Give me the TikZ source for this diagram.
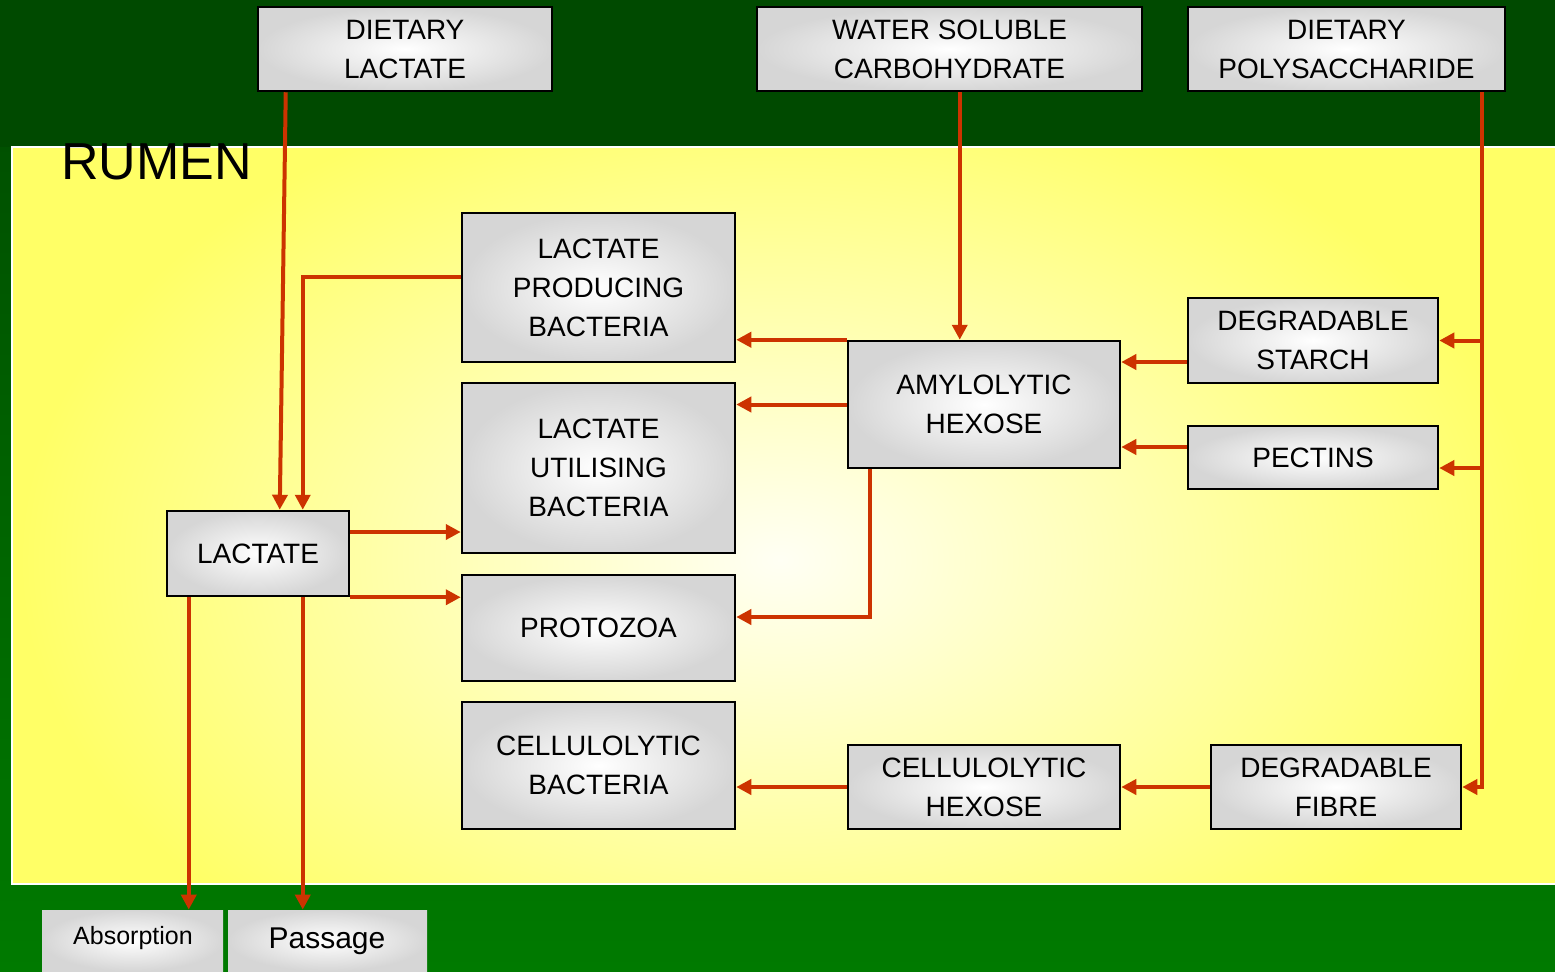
\documentclass[tikz,border=0pt]{standalone}
\usepackage{fontspec}
\setmainfont{Liberation Sans}
\usetikzlibrary{arrows.meta,fit}
\definecolor{arrowred}{HTML}{CC3300}
\definecolor{topgreen}{HTML}{004A00}
\definecolor{botgreen}{HTML}{007A00}
\definecolor{rumenyellow}{HTML}{FFFF66}
\definecolor{rumenlight}{HTML}{FFFFF4}
\definecolor{boxgray}{HTML}{D6D6D6}
\begin{document}
\begin{tikzpicture}[x=0.5pt,y=-0.5pt,
  box/.style={draw=black, line width=1.25pt, inner color=white, outer color=boxgray, inner sep=0pt},
  txt/.style={inner sep=0pt, align=center, text=black, font=\fontsize{14}{19.5}\selectfont},
  outbox/.style={inner color=white, outer color=boxgray, inner sep=0pt},
  arr/.style={draw=arrowred, line width=2pt, -{Triangle[length=7.5pt,width=7.5pt]}}]
\useasboundingbox (0,0) rectangle (1555,971);
\clip (0,0) rectangle (1555,971);
% background
\shade[top color=topgreen, bottom color=botgreen] (0,0) rectangle (1555,971);
\fill[topgreen] (0,0) rectangle (1555,147);
% rumen
\fill[rumenyellow] (12,147) rectangle (1570,884);
\begin{scope}
  \clip (12,147) rectangle (1570,884);
  \shade[inner color=rumenlight, outer color=rumenyellow] (780,560) ellipse [x radius=760, y radius=500];
\end{scope}
\draw[white, line width=1pt] (12,147) rectangle (1570,884);
\node[anchor=base west, font=\fontsize{26}{30}\selectfont, text=black, inner sep=0pt] (rumen) at (61,179) {RUMEN};

% boxes
\node[box, fit={(258,7) (552,91)}, label={[txt]center:DIETARY\\LACTATE}] (dl) {};
\node[box, fit={(757,7) (1142,91)}, label={[txt]center:WATER SOLUBLE\\CARBOHYDRATE}] (wsc) {};
\node[box, fit={(1188,7) (1505,91)}, label={[txt]center:DIETARY\\POLYSACCHARIDE}] (dp) {};
\node[box, fit={(462,213) (735,362)}, label={[txt]center:LACTATE\\PRODUCING\\BACTERIA}] (lpb) {};
\node[box, fit={(462,383) (735,553)}, label={[txt]center:LACTATE\\UTILISING\\BACTERIA}] (lub) {};
\node[box, fit={(462,575) (735,681)}, label={[txt]center:PROTOZOA}] (pro) {};
\node[box, fit={(462,702) (735,829)}, label={[txt]center:CELLULOLYTIC\\BACTERIA}] (cb) {};
\node[box, fit={(848,341) (1120,468)}, label={[txt]center:AMYLOLYTIC\\HEXOSE}] (amy) {};
\node[box, fit={(1188,298) (1438,383)}, label={[txt]center:DEGRADABLE\\STARCH}] (ds) {};
\node[box, fit={(1188,426) (1438,489)}, label={[txt]center:PECTINS}] (pec) {};
\node[box, fit={(848,745) (1120,829)}, label={[txt]center:CELLULOLYTIC\\HEXOSE}] (ch) {};
\node[box, fit={(1211,745) (1461,829)}, label={[txt]center:DEGRADABLE\\FIBRE}] (df) {};
\node[box, fit={(167,511) (349,596)}, label={[txt]center:LACTATE}] (lac) {};
\node[outbox, fit={(42,910) (223,971)}] (abs) {};
\node[txt, font=\fontsize{12.5}{15}\selectfont] (abst) at (133,938) {Absorption};
\node[outbox, fit={(228,910) (427,971)}] (pas) {};
\node[txt, font=\fontsize{15}{18}\selectfont] (past) at (327,941) {Passage};

% connectors
\draw[arr] ([xshift=14.5pt]dl.south west) -- ([xshift=57pt]lac.north west);
\draw[arr] ([yshift=5.25pt]lpb.west) -| ([xshift=68.5pt]lac.north west);
\coordinate (w1) at ([xshift=102pt]wsc.south west);
\draw[arr] (w1) -- (w1 |- amy.north);
\draw[arr] (amy.north west) -- (amy.north west -| lpb.east);
\draw[arr] (amy.west) -- (amy.west -| lub.east);
\draw[arr] ([xshift=11.5pt]amy.south west) |- ([yshift=5.5pt]pro.east);
\coordinate (dsw) at ([yshift=-10.75pt]ds.west);
\draw[arr] (dsw) -- (dsw -| amy.east);
\coordinate (pw) at ([yshift=5.25pt]pec.west);
\draw[arr] (pw) -- (pw -| amy.east);
\coordinate (dpx) at ([xshift=147.5pt]dp.south west);
\draw[arr] (dpx) |- (df.east);
\draw[arr] (dpx |- ds.east) -- (ds.east);
\coordinate (pe) at ([yshift=-5.25pt]pec.east);
\draw[arr] (dpx |- pe) -- (pe);
\draw[arr] (df.west) -- (df.west -| ch.east);
\draw[arr] (ch.west) -- (ch.west -| cb.east);
\coordinate (l1) at ([yshift=10.75pt]lac.east);
\draw[arr] (l1) -- (l1 -| lub.west);
\draw[arr] (lac.south east) -- (lac.south east -| pro.west);
\coordinate (l2) at ([xshift=11.5pt]lac.south west);
\draw[arr] (l2) -- (l2 |- abs.north);
\coordinate (l3) at ([xshift=68.5pt]lac.south west);
\draw[arr] (l3) -- (l3 |- pas.north);
\end{tikzpicture}
\end{document}
